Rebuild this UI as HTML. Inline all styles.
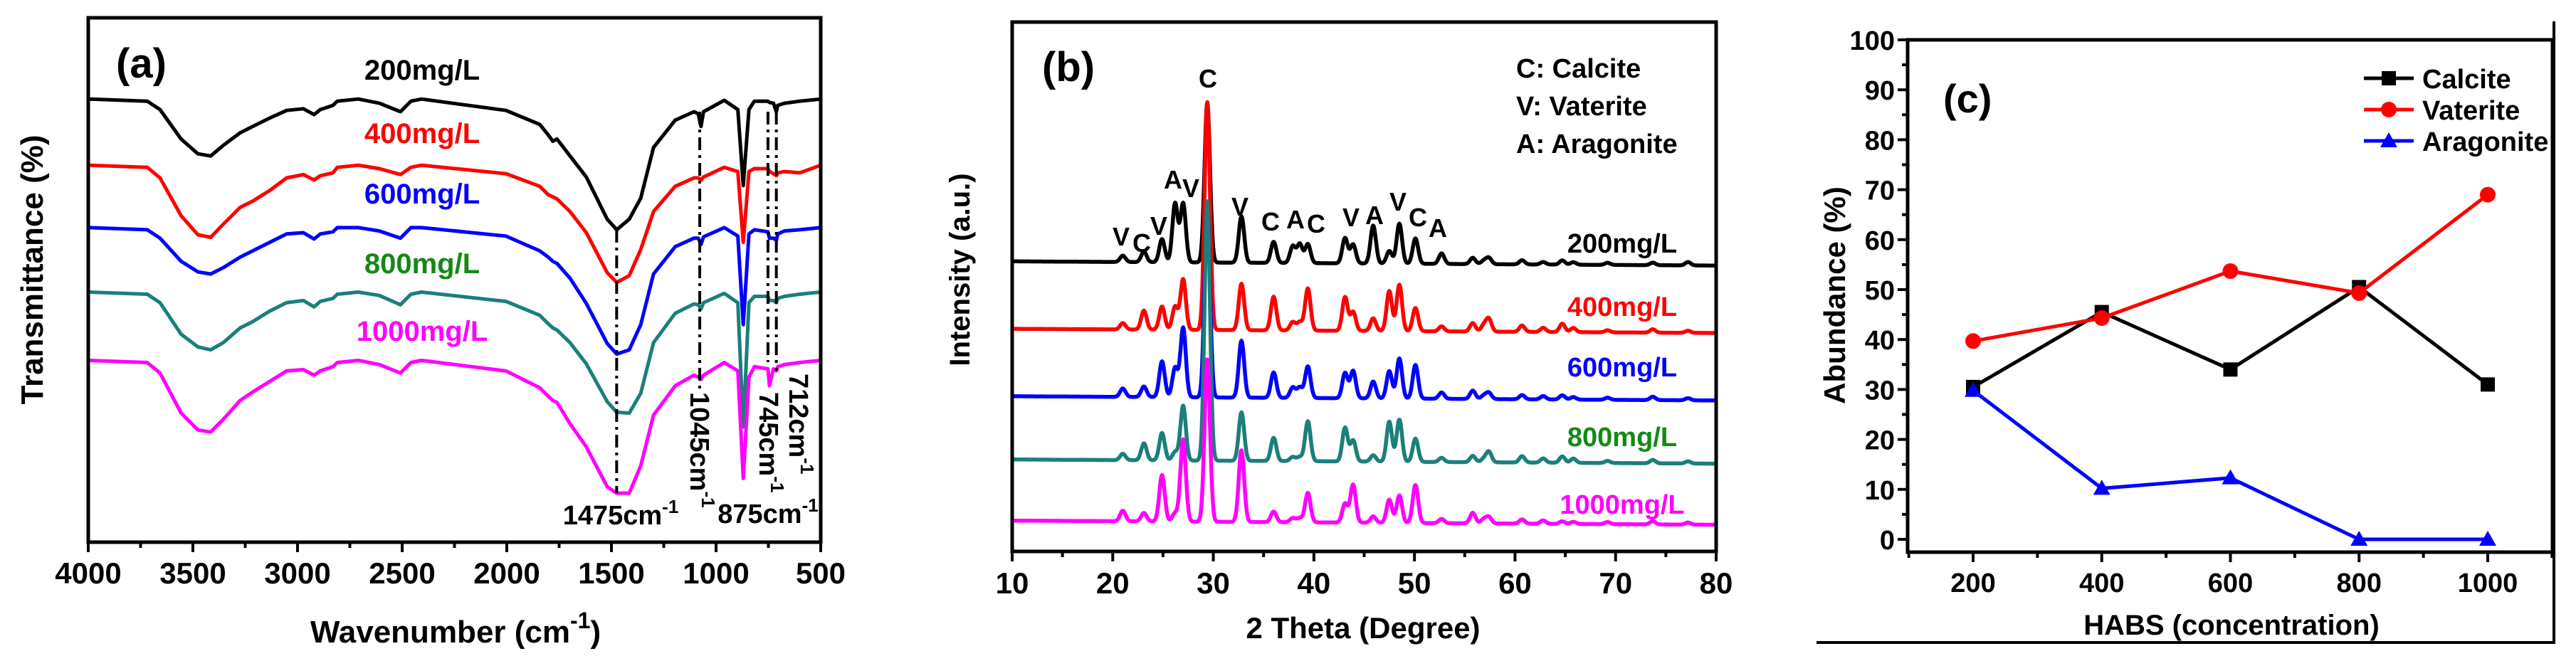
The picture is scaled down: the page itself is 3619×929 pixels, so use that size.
<!DOCTYPE html>
<html><head><meta charset="utf-8"><style>
html,body{margin:0;padding:0;background:#fff;}
svg{display:block;font-family:"Liberation Sans",Arial,sans-serif;font-weight:bold;}
</style></head><body>
<svg id="fig" width="3619" height="929" viewBox="0 0 3619 929" xmlns="http://www.w3.org/2000/svg">
<rect x="0" y="0" width="3619" height="929" fill="#fff"/>
<g id="pa"></g>
<g id="pb"></g>
<g id="pc"></g>
</svg>
<script>
// ---------- Panel (a) FTIR data ----------
const ftirWave = [4000,3718,3657,3556,3476,3415,3355,3274,3214,3133,3052,2972,2921,2891,2831,2810,2710,2609,2508,2458,2407,2004,1843,1802,1780,1760,1698,1620,1520,1475,1415,1360,1299,1195,1105,1085,1072,1060,961,896,870,843,817,752,745,726,712,705,673,600,500];
const ftir200 = [0,5,25,95,130,135,110,80,65,45,27,23,37,25,15,5,0,10,30,5,0,27,60,85,100,95,135,185,285,310,285,235,115,50,30,35,65,30,3,25,205,25,5,5,8,10,30,15,10,5,0];
const ftir400 = [0,5,30,120,165,171,140,100,85,60,30,22,35,25,18,5,0,8,22,5,0,20,50,70,75,80,110,160,255,278,262,200,110,50,30,30,35,28,5,15,183,15,8,8,15,20,25,18,15,18,0];
const ftir600 = [0,5,25,80,105,110,95,70,55,35,15,12,27,15,10,0,0,8,25,0,0,20,55,70,80,85,120,180,275,300,290,230,110,45,25,25,40,22,0,20,230,15,5,10,25,25,30,15,8,5,0];
const ftir800 = [0,5,25,100,130,137,120,85,70,45,25,20,35,22,15,5,0,8,30,5,0,22,55,75,85,90,120,170,260,285,287,240,120,50,28,30,40,25,3,25,320,25,10,10,20,20,25,15,10,5,0];
const ftir1000 = [0,5,30,125,165,170,140,95,75,50,25,22,35,25,15,5,0,10,30,5,0,25,65,85,95,100,150,205,300,315,315,250,130,60,35,40,45,35,5,25,280,40,15,20,60,20,25,15,10,5,0];
const ftirOffsets = [235,392,540,693,855];
const ftirLabels = ["200mg/L","400mg/L","600mg/L","800mg/L","1000mg/L"];
const ftirTicks = [4000,3500,3000,2500,2000,1500,1000,500];
const ftirMarks = [1475,1078,752,712];

// ---------- Panel (b) XRD data ----------
const xrdPos = [21.0,23.1,24.9,26.2,27.0,29.4,32.8,36.0,37.9,38.6,39.4,43.1,43.9,45.9,47.5,48.5,50.1,52.7,55.8,56.9,57.4,60.7,62.8,64.7,65.8,69.2,73.7,77.2];
const xrd200 = [15,25,55,140,140,380,110,50,40,45,45,60,45,90,30,95,60,25,15,8,15,10,6,10,6,5,6,8];
const xrd400 = [15,45,55,55,120,540,110,80,20,20,100,80,45,30,95,110,55,12,20,15,30,15,10,20,10,5,8,5];
const xrd600 = [20,25,85,70,165,460,135,60,25,25,75,60,65,40,65,95,80,15,20,8,15,10,8,10,6,5,8,5];
const xrd800 = [15,40,65,20,130,615,115,55,10,10,95,80,50,15,95,100,55,10,15,8,25,15,10,15,10,5,8,5];
const xrd1000 = [25,20,110,20,195,385,170,25,10,10,70,45,90,15,55,65,90,10,25,10,15,10,8,6,5,5,8,5];
const xrdBase = [620,780,940,1090,1235];
const xrdLabels = ["200mg/L","400mg/L","600mg/L","800mg/L","1000mg/L"];
const xrdTicks = [10,20,30,40,50,60,70,80];

// ---------- Panel (c) abundance data ----------
const habs = [200,400,600,800,1000];
const calcite = [30.5,45.5,34,50.5,31];
const vaterite = [39.7,44.3,53.7,49.3,69];
const aragonite = [29.8,10.2,12.3,0,0];
const abTicksY = [0,10,20,30,40,50,60,70,80,90,100];
const abTicksX = [200,400,600,800,1000];

const NS="http://www.w3.org/2000/svg";
function mk(parent,tag,attrs,txt){const e=document.createElementNS(NS,tag);for(const k in attrs)e.setAttribute(k,attrs[k]);if(txt!==undefined)e.textContent=txt;parent.appendChild(e);return e;}
const colors=["#000000","#ff0000","#0000ff","#1b7f7a","#ff00ff"];
const labelColors=["#000000","#ff0000","#0000ff","#138a13","#ff00ff"];

// ===== Panel A =====
(function(){
const g=document.getElementById('pa');
const L=124,R=1153,T=25,B=762;
const xA=w=>L+(4000-w)/3500*(R-L);
const yA=v=>v/1.688;
const series=[ftir200,ftir400,ftir600,ftir800,ftir1000];
const ids=['ftir-200','ftir-400','ftir-600','ftir-800','ftir-1000'];
series.forEach((s,i)=>{
  let d='';
  ftirWave.forEach((w,j)=>{d+=(j?'L':'M')+xA(w).toFixed(1)+' '+yA(ftirOffsets[i]+s[j]).toFixed(1);});
  const p=mk(g,'path',{d:d,fill:'none',stroke:colors[i],'stroke-width':5,'stroke-linejoin':'round'});
  
  
});
const markTop=[323,157,157,157],markBot=[693,551,509,521];
ftirMarks.forEach((w,i)=>{
  const l=mk(g,'line',{x1:xA(w),x2:xA(w),y1:markTop[i],y2:markBot[i],stroke:'#000','stroke-width':4,'stroke-dasharray':'18 7 4 7'});
  
  
});
const f=mk(g,'rect',{x:L,y:T,width:R-L,height:B-T,fill:'none',stroke:'#000','stroke-width':5});


for(let w=4000;w>=500;w-=250){
  const major=(w%500===0);
  const t=mk(g,'line',{x1:xA(w),x2:xA(w),y1:B,y2:B+(major?14:8),stroke:'#000','stroke-width':4});
  
  
}
ftirTicks.forEach(v=>{
  const t=mk(g,'text',{x:xA(v),y:820,'font-size':42,'text-anchor':'middle'},String(v));
  
  
});
const labY=[98,187,272,370,465];
ftirLabels.forEach((s,i)=>{
  const t=mk(g,'text',{x:593,y:labY[i]+14,'font-size':40,'text-anchor':'middle',fill:labelColors[i]},s);
  
  
});
})();
</script>
<script>
(function(){
const g=document.getElementById('pa');
g.insertAdjacentHTML('beforeend',`
<text x="163" y="109" font-size="58">(a)</text>
<text x="640" y="903" font-size="44" text-anchor="middle">Wavenumber (cm<tspan dy="-20" font-size="32">-1</tspan><tspan dy="20">)</tspan></text>
<text transform="translate(60,379) rotate(-90)" font-size="44" text-anchor="middle">Transmittance (%)</text>
<text x="872" y="737" font-size="38" text-anchor="middle">1475cm<tspan dy="-16" font-size="26">-1</tspan></text>
<text x="1079" y="735" font-size="38" text-anchor="middle">875cm<tspan dy="-16" font-size="26">-1</tspan></text>
<text transform="translate(970,551) rotate(90)" font-size="38">1045cm<tspan dy="-16" font-size="26">-1</tspan></text>
<text transform="translate(1067,551) rotate(90)" font-size="38">745cm<tspan dy="-16" font-size="26">-1</tspan></text>
<text transform="translate(1109,525) rotate(90)" font-size="38">712cm<tspan dy="-16" font-size="26">-1</tspan></text>
`);
})();

// ===== Panel B =====
(function(){
const g=document.getElementById('pb');
const L=1422,R=2411,T=31,B=775;
const xB=t=>L+(t-10)/70*(R-L);
const yB=v=>v/1.688;
const series=[xrd200,xrd400,xrd600,xrd800,xrd1000];
const ids=['xrd-200','xrd-400','xrd-600','xrd-800','xrd-1000'];
const sig=0.27;
series.forEach((s,i)=>{
  let d='';
  for(let k=0;k<=1400;k++){
    const t=10+k*0.05;
    let v=0;
    xrdPos.forEach((p,j)=>{const z=(t-p)/sig;v+=s[j]*Math.exp(-0.5*z*z);});
    const base=xrdBase[i]+(t-10)/70*10;
    d+=(k?'L':'M')+xB(t).toFixed(1)+' '+yB(base-v).toFixed(1);
  }
  const p=mk(g,'path',{d:d,fill:'none',stroke:colors[i],'stroke-width':5.5,'stroke-linejoin':'round'});
  
  
});
const f=mk(g,'rect',{x:L,y:T,width:R-L,height:B-T,fill:'none',stroke:'#000','stroke-width':5});


for(let t=10;t<=80;t+=5){
  const major=(t%10===0);
  const l=mk(g,'line',{x1:xB(t),x2:xB(t),y1:B,y2:B+(major?14:8),stroke:'#000','stroke-width':4});
  
  
}
xrdTicks.forEach(v=>{
  const t=mk(g,'text',{x:xB(v),y:834,'font-size':42,'text-anchor':'middle'},String(v));
  
  
});
const labY=[341,430,515,613,708];
xrdLabels.forEach((s,i)=>{
  const t=mk(g,'text',{x:2279,y:labY[i]+14,'font-size':38,'text-anchor':'middle',fill:labelColors[i]},s);
  
  
});
const phaseLetters=["V","C","V","A","V","C","V","C","A","C","V","A","V","C","A"];
const phaseX=[1575,1604,1628,1648,1673,1697,1742,1785,1820,1849,1898,1931,1964,1992,2020];
const phaseY=[332,341,317,252,264,110,290,311,308,314,305,302,283,305,320];
phaseLetters.forEach((c,i)=>{
  const t=mk(g,'text',{x:phaseX[i],y:phaseY[i]+13,'font-size':36,'text-anchor':'middle'},c);
  
  
});
g.insertAdjacentHTML('beforeend',`
<text x="1464" y="114" font-size="58">(b)</text>
<text x="2130" y="109" font-size="38">C: Calcite</text>
<text x="2130" y="162" font-size="38">V: Vaterite</text>
<text x="2130" y="215" font-size="38">A: Aragonite</text>
<text x="1915" y="897" font-size="42" text-anchor="middle">2 Theta (Degree)</text>
<text transform="translate(1362,379) rotate(-90)" font-size="40" text-anchor="middle">Intensity (a.u.)</text>
`);
})();

// ===== Panel C =====
(function(){
const g=document.getElementById('pc');
const L=2680,R=3586,T=56,B=776;
const xC=v=>2772+(v-200)/800*(3495-2772);
const yC=v=>758-v*7.02;
const f=mk(g,'rect',{x:L,y:T,width:R-L,height:B-T,fill:'none',stroke:'#000','stroke-width':5});


const ob=mk(g,'path',{d:'M2552 903 L3588 903 L3588 30',fill:'none',stroke:'#000','stroke-width':4});


for(let v=0;v<=100;v+=5){
  const major=(v%10===0);
  const l=mk(g,'line',{x1:L-(major?14:8),x2:L,y1:yC(v),y2:yC(v),stroke:'#000','stroke-width':4});
  
  
}
abTicksY.forEach(v=>{
  const t=mk(g,'text',{x:2662,y:yC(v)+14,'font-size':38,'text-anchor':'end'},String(v));
  
  
});
for(let v=100;v<=1100;v+=100){
  const major=(v%200===0);
  const l=mk(g,'line',{x1:xC(v),x2:xC(v),y1:B,y2:B+(major?14:8),stroke:'#000','stroke-width':4});
  
  
}
abTicksX.forEach(v=>{
  const t=mk(g,'text',{x:xC(v),y:832,'font-size':38,'text-anchor':'middle'},String(v));
  
  
});
const sets=[[calcite,'#000','square','calcite'],[vaterite,'#ff0000','circle','vaterite'],[aragonite,'#0000ff','triangle','aragonite']];
function marker(kind,x,y,c){
  if(kind==='square') return mk(g,'rect',{x:x-10,y:y-10,width:20,height:20,fill:c});
  if(kind==='circle') return mk(g,'circle',{cx:x,cy:y,r:11,fill:c});
  return mk(g,'path',{d:`M${x} ${y-12} L${x+12} ${y+9} L${x-12} ${y+9} Z`,fill:c});
}
sets.forEach(([arr,c,kind,name])=>{
  const pts=arr.map((v,i)=>xC(habs[i]).toFixed(1)+','+yC(v).toFixed(1)).join(' ');
  const pl=mk(g,'polyline',{points:pts,fill:'none',stroke:c,'stroke-width':5});
  
  
  arr.forEach((v,i)=>{
    const m=marker(kind,xC(habs[i]),yC(v),c);
    
    
  });
});
const legY=[110,154,198];
sets.forEach(([arr,c,kind,name],i)=>{
  const l=mk(g,'line',{x1:3321,x2:3391,y1:legY[i],y2:legY[i],stroke:c,'stroke-width':5});
  
  
  const m=marker(kind,3356,legY[i],c);
  
  
  const t=mk(g,'text',{x:3403,y:legY[i]+14,'font-size':38},name.charAt(0).toUpperCase()+name.slice(1));
  
  
});
g.insertAdjacentHTML('beforeend',`
<text x="2730" y="158" font-size="56">(c)</text>
<text x="3135" y="892" font-size="40" text-anchor="middle">HABS (concentration)</text>
<text transform="translate(2592,415) rotate(-90)" font-size="42" text-anchor="middle">Abundance (%)</text>
`);
})();
</script>
</body></html>
